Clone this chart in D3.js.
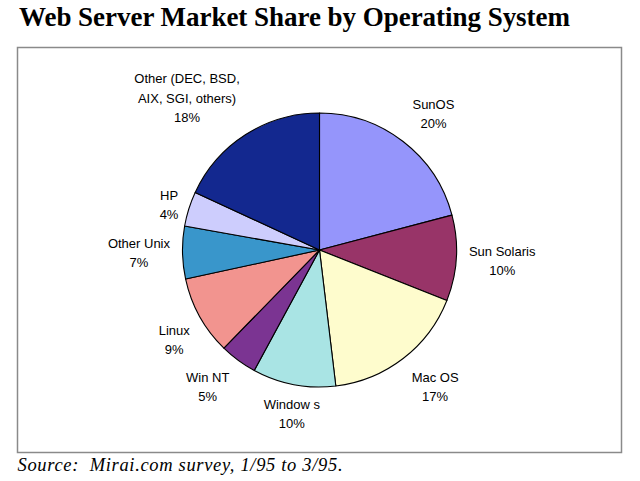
<!DOCTYPE html>
<html><head><meta charset="utf-8">
<script src="https://cdn.jsdelivr.net/npm/d3@7"></script>
<style>body{margin:0;background:#fff}</style>
</head><body>
<svg id="c" width="640" height="481"></svg>
<script>
const categories = ["SunOS","Sun Solaris","Mac OS","Windows","Win NT","Linux","Other Unix","HP","Other"];
const values = [20.9, 10.1, 17.1, 9.8, 4.4, 9.3, 6.2, 4.1, 18.1];
const labelLines = [["SunOS"],["Sun Solaris"],["Mac OS"],["Window s"],["Win NT"],["Linux"],["Other Unix"],["HP"],["Other (DEC, BSD,","AIX, SGI, others)"]];
const pctLabels = ["20%","10%","17%","10%","5%","9%","7%","4%","18%"];
const colors = ["#9595fb","#983468","#fefccd","#a9e4e4","#7b3492","#f2948f","#3996cb","#cdcdfd","#13288f"];

const svg = d3.select("#c");
svg.append("text").attr("x",19).attr("y",25.5)
  .attr("font-family","Liberation Serif, Times New Roman, serif").attr("font-weight","bold")
  .attr("font-size",27).attr("textLength",551).attr("lengthAdjust","spacing")
  .text("Web Server Market Share by Operating System");
svg.append("rect").attr("x",17.5).attr("y",47.5).attr("width",604).attr("height",405)
  .attr("fill","#fff").attr("stroke","#8a8a8a").attr("stroke-width",1.5);
svg.append("text").attr("x",17.5).attr("y",471)
  .attr("font-family","Liberation Serif, Times New Roman, serif").attr("font-style","italic")
  .attr("font-size",18.5).attr("xml:space","preserve")
  .attr("textLength",325).attr("lengthAdjust","spacing")
  .text("Source:  Mirai.com survey, 1/95 to 3/95.");

const cx = 319.5, cy = 250, r = 137;
const pie = d3.pie().sort(null).value(d => d)(values);
const arc = d3.arc().innerRadius(0).outerRadius(r);
const g = svg.append("g").attr("transform",`translate(${cx},${cy})`);
g.selectAll("path").data(pie).join("path")
  .attr("d",arc).attr("fill",(d,i)=>colors[i])
  .attr("stroke","#000").attr("stroke-width",1.1).attr("stroke-linejoin","round");

// label placement: radius factor and angular nudge (degrees) per slice
const labelR = [1.296,1.336,1.307,1.212,1.289,1.246,1.318,1.147,1.471];
const labelNudge = [2.3,0,-2.6,-1.2,2.9,-2.7,0.2,-0.7,-8.5];
const lineH = 19.6;
pie.forEach((d,i)=>{
  const a = (d.startAngle+d.endAngle)/2 + labelNudge[i]*Math.PI/180;
  const lr = r*labelR[i];
  const x = cx + Math.sin(a)*lr, y = cy - Math.cos(a)*lr;
  const lines = labelLines[i].concat([pctLabels[i]]);
  const t = svg.append("text").attr("text-anchor","middle")
    .attr("font-family","Liberation Sans, Arial, Helvetica, sans-serif").attr("font-size",13).attr("fill","#000");
  const y0 = y - (lines.length-1)*lineH/2 + 4.7;
  lines.forEach((s,k)=>t.append("tspan").attr("x",x).attr("y",y0+k*lineH).text(s));
});
</script>
</body></html>
